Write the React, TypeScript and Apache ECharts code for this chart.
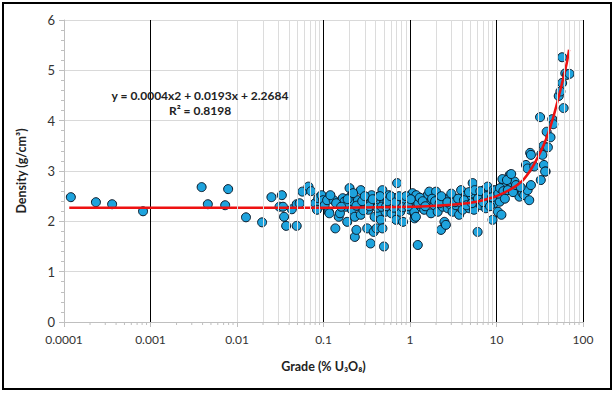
import React, { useEffect, useRef } from "react";
import * as echarts from "echarts";

const gradeValues = [
  0.00012, 0.000234, 0.00036, 0.00082, 0.0039, 0.0046, 0.0073, 0.0079, 0.0127, 0.0195,
  0.025, 0.031, 0.033, 0.034, 0.035, 0.037, 0.043, 0.049, 0.049, 0.053,
  0.057, 0.067, 0.072, 0.08, 0.084, 0.087, 0.095, 0.099, 0.103, 0.11,
  0.115, 0.117, 0.131, 0.137, 0.15, 0.155, 0.167, 0.174, 0.18, 0.188,
  0.2, 0.205, 0.213, 0.22, 0.23, 0.23, 0.24, 0.25, 0.26, 0.27,
  0.27, 0.32, 0.32, 0.33, 0.35, 0.35, 0.36, 0.38, 0.39, 0.39,
  0.41, 0.43, 0.44, 0.44, 0.46, 0.48, 0.48, 0.5, 0.5, 0.52,
  0.54, 0.57, 0.59, 0.61, 0.63, 0.66, 0.69, 0.71, 0.71, 0.74,
  0.77, 0.8, 0.83, 0.87, 1.0, 1.05, 1.07, 1.09, 1.12, 1.13,
  1.17, 1.17, 1.18, 1.23, 1.34, 1.46, 1.53, 1.6, 1.67, 1.67,
  1.75, 1.91, 2.0, 2.09, 2.28, 2.39, 2.5, 2.5, 2.6, 2.73,
  2.85, 2.98, 3.1, 3.25, 3.4, 3.7, 3.9, 3.9, 4.06, 4.44,
  4.64, 4.85, 5.07, 5.3, 5.3, 5.5, 5.8, 6.05, 6.3, 6.6,
  6.9, 7.2, 7.5, 7.9, 8.2, 8.6, 9.0, 9.2, 9.4, 9.8,
  10.0, 10.4, 10.9, 11.4, 11.9, 13.0, 14.2, 14.8, 16.2, 17.0,
  18.4, 20.0, 20.9, 21.9, 22.9, 22.9, 23.9, 24.5, 25.0, 25.0,
  27.3, 31.9, 32.5, 33.0, 33.9, 34.9, 35.4, 37.0, 38.0, 39.3,
  42.1, 44.1, 45.4, 52.4, 54.8, 57.4, 57.4, 59.7, 62.4, 65.3,
  69.9, 11.7, 13.2, 14.8, 36.5,
  0.12, 0.14, 0.16, 0.19, 0.22, 0.24, 0.28, 0.29, 0.3, 0.34,
  0.37, 0.42, 0.45, 0.47, 0.53, 0.55, 0.6, 0.65, 0.68, 0.75,
  0.82, 0.9, 0.95, 1.02, 1.25, 1.3, 1.4, 1.5, 1.8, 1.95,
  2.2, 2.3, 2.7, 3.0, 3.3, 3.6, 4.2, 4.5, 4.8, 5.2,
  5.6, 6.1, 6.5, 7.0, 7.7, 8.4, 8.9, 10.5, 11.0, 12.0,
  12.5, 13.5, 15.5, 16.8, 19.0,
];

const densityValues = [
  2.48, 2.38, 2.34, 2.2, 2.68, 2.34, 2.32, 2.64, 2.08, 1.98,
  2.48, 2.29, 2.52, 2.29, 2.09, 1.91, 2.24, 2.34, 1.91, 2.36,
  2.59, 2.69, 2.6, 2.36, 2.23, 2.46, 2.52, 2.42, 2.32, 2.42,
  2.19, 2.16, 2.42, 1.86, 2.09, 2.16, 2.46, 2.39, 2.29, 1.99,
  2.66, 2.49, 2.23, 2.39, 2.09, 1.69, 1.83, 2.42, 2.29, 2.62,
  2.13, 2.46, 1.86, 2.23, 2.36, 1.56, 2.52, 1.79, 2.39, 2.09,
  1.86, 2.49, 2.36, 2.16, 2.03, 1.86, 2.62, 1.5, 2.36, 2.19,
  2.46, 2.52, 2.29, 2.16, 2.39, 2.46, 2.03, 2.76, 2.29, 2.42,
  2.19, 2.36, 1.99, 2.42, 2.23, 2.52, 2.56, 2.39, 2.19, 2.06,
  2.42, 2.09, 2.52, 1.53, 2.29, 2.23, 2.42, 2.52, 2.36, 2.59,
  2.16, 2.32, 2.59, 2.19, 1.83, 2.29, 2.42, 1.99, 1.93, 2.26,
  2.46, 2.32, 2.19, 2.46, 2.32, 2.13, 2.62, 2.36, 2.23, 2.52,
  2.39, 2.26, 2.46, 2.76, 2.56, 2.23, 2.39, 1.79, 2.52, 2.32,
  2.46, 2.62, 2.26, 2.69, 2.42, 2.56, 2.03, 2.62, 2.36, 2.62,
  2.49, 2.19, 2.39, 2.13, 2.82, 2.76, 2.92, 2.69, 2.79, 2.59,
  2.49, 2.56, 2.52, 3.12, 3.05, 2.62, 2.42, 3.36, 3.32, 2.72,
  3.09, 4.07, 2.82, 3.34, 3.32, 3.5, 3.12, 2.99, 3.78, 3.47,
  3.67, 4.03, 3.93, 4.49, 4.58, 4.75, 5.26, 4.25, 4.94, 4.91,
  4.93, 2.84, 2.82, 2.94, 2.99,
  2.52, 2.36, 2.29, 2.44, 2.56, 2.31, 2.4, 2.22, 2.5, 2.3,
  2.44, 2.27, 2.5, 2.29, 2.3, 2.4, 2.5, 2.27, 2.38, 2.5,
  2.28, 2.5, 2.3, 2.44, 2.35, 2.47, 2.4, 2.3, 2.45, 2.4,
  2.36, 2.5, 2.38, 2.55, 2.38, 2.45, 2.42, 2.32, 2.58, 2.36,
  2.62, 2.45, 2.6, 2.38, 2.5, 2.3, 2.48, 2.55, 2.66, 2.6,
  2.45, 2.62, 2.58, 2.72, 2.68,
];

const trendGrade = [0.000115, 0.001, 0.01, 0.1, 1, 2, 3, 5, 7, 10, 15, 20, 25, 30, 35, 40, 45, 50, 55, 60, 65, 69];
const trendDensity = [2.27, 2.27, 2.27, 2.27, 2.29, 2.31, 2.33, 2.37, 2.42, 2.5, 2.65, 2.81, 3.03, 3.27, 3.51, 3.77, 4.05, 4.34, 4.62, 4.89, 5.15, 5.41];

const xTickLabels = ["0.0001", "0.001", "0.01", "0.1", "1", "10", "100"];
const decadeStarts = [0.0001, 0.001, 0.01, 0.1, 1, 10];
const minorMultipliers = [2, 3, 4, 5, 6, 7, 8, 9];

const equationText = "y = 0.0004x2 + 0.0193x + 2.2684";
const rSquaredText = "R² = 0.8198";

const FONT = "Lato, Carlito, 'Liberation Sans', sans-serif";

export default function App() {
  const ref = useRef<HTMLDivElement>(null);
  useEffect(() => {
    if (!ref.current) return;
    const chart = echarts.init(ref.current, null, { renderer: "svg" });
    const minorValues: number[] = [];
    decadeStarts.forEach((d) => minorMultipliers.forEach((m) => minorValues.push(+(d * m).toPrecision(3))));
    const scatterData = gradeValues.map((g, i) => [g, densityValues[i]]);
    const trendData = trendGrade.map((g, i) => [g, trendDensity[i]]);
    const option: any = {
      animation: false,
      backgroundColor: "#ffffff",
      textStyle: { fontFamily: FONT },
      grid: { left: 64, right: 32, top: 20, bottom: 71, containLabel: false },
      xAxis: {
        type: "log",
        logBase: 10,
        min: 0.0001,
        max: 100,
        name: "Grade (% U₃O₈)",
        nameLocation: "middle",
        nameGap: 38,
        nameTextStyle: { fontFamily: FONT, fontSize: 12.5, fontWeight: "bold", color: "#222" },
        axisLine: { show: true, lineStyle: { color: "#bfbfbf", width: 1 } },
        axisTick: { show: true, length: 5, lineStyle: { color: "#bfbfbf" } },
        axisLabel: {
          fontFamily: FONT,
          fontSize: 12,
          color: "#333",
          margin: 11,
          formatter: (v: number) => xTickLabels[Math.round(Math.log10(v)) + 4] ?? "",
        },
        splitLine: {
          show: true,
          lineStyle: { color: ["#bfbfbf", "#000", "#000", "#000", "#000", "#000", "#000"], width: 1 },
        },
      },
      yAxis: {
        type: "value",
        min: 0,
        max: 6,
        interval: 1,
        name: "Density (g/cm³)",
        nameLocation: "middle",
        nameGap: 36,
        nameTextStyle: { fontFamily: FONT, fontSize: 12.5, fontWeight: "bold", color: "#222" },
        axisLine: { show: true, lineStyle: { color: "#bfbfbf", width: 1 } },
        axisTick: { show: true, length: 5, lineStyle: { color: "#bfbfbf" } },
        minorTick: { show: true, splitNumber: 5, length: 3, lineStyle: { color: "#bfbfbf" } },
        axisLabel: { fontFamily: FONT, fontSize: 13, color: "#333", margin: 9 },
        splitLine: { show: true, lineStyle: { color: "#d9d9d9", width: 1 } },
      },
      series: [
        {
          type: "line",
          data: [],
          silent: true,
          z: 1,
          markLine: {
            silent: true,
            symbol: "none",
            label: { show: false },
            animation: false,
            lineStyle: { color: "#dcdcdc", type: "solid", width: 1 },
            data: minorValues.map((v) => ({ xAxis: v })),
          },
        },
        {
          type: "custom",
          silent: true,
          clip: false,
          z: 1,
          data: minorValues.map((v) => [v, 0]),
          renderItem: (params: any, api: any) => {
            const p = api.coord([api.value(0), 0]);
            return {
              type: "line",
              shape: { x1: p[0], y1: p[1], x2: p[0], y2: p[1] + 3 },
              style: { stroke: "#bfbfbf", lineWidth: 1 },
            };
          },
        },
        {
          type: "scatter",
          data: scatterData,
          symbol: "circle",
          symbolSize: 9,
          z: 3,
          itemStyle: { color: "#1ea3dd", borderColor: "#0b1a2a", borderWidth: 1, opacity: 1 },
        },
        {
          type: "line",
          data: trendData,
          smooth: 0.3,
          showSymbol: false,
          symbol: "none",
          z: 4,
          lineStyle: { color: "#ee1111", width: 2.5 },
        },
      ],
      graphic: [
        {
          type: "rect",
          shape: { x: 3, y: 3, width: 608, height: 386 },
          style: { fill: "none", stroke: "#000", lineWidth: 2 },
          z: 0,
          silent: true,
        },
        {
          type: "text",
          x: 200,
          y: 95,
          style: {
            text: equationText,
            fontFamily: FONT,
            fontSize: 12,
            fontWeight: "bold",
            fill: "#222",
            textAlign: "center",
            textVerticalAlign: "middle",
          },
          z: 10,
        },
        {
          type: "text",
          x: 200,
          y: 110,
          style: {
            text: rSquaredText,
            fontFamily: FONT,
            fontSize: 12,
            fontWeight: "bold",
            fill: "#222",
            textAlign: "center",
            textVerticalAlign: "middle",
          },
          z: 10,
        },
      ],
    };
    chart.setOption(option);
    return () => chart.dispose();
  }, []);
  return (
    <div
      ref={ref}
      style={{ position: "fixed", left: 0, top: 0, width: 615, height: 393, background: "#fff" }}
    />
  );
}
